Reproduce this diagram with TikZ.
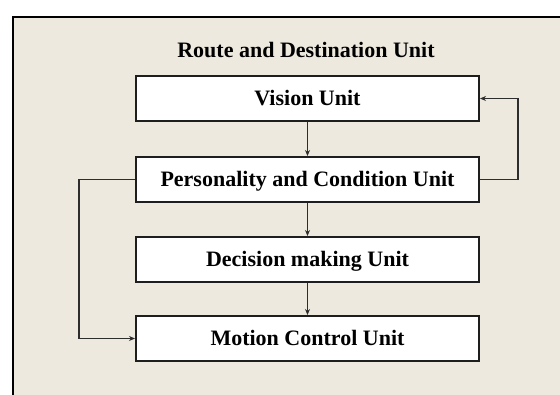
\documentclass[tikz,border=0pt]{standalone}
\usepackage{fontspec}
\setmainfont{Liberation Serif}
\usetikzlibrary{arrows.meta,positioning}
\definecolor{bgbeige}{RGB}{237,233,223}
\definecolor{boxline}{RGB}{30,30,30}
\definecolor{conline}{RGB}{45,45,45}
\tikzset{
  unitbox/.style={draw=boxline, line width=2pt, fill=white, minimum width=343pt, minimum height=45pt,
    inner sep=0pt, font=\fontsize{22}{26}\selectfont\bfseries, text height=15pt, text depth=0pt},
  conn/.style={draw=conline, line width=1.1pt, -{Stealth[length=6pt,width=5pt]}},
  titletext/.style={font=\fontsize{22}{26}\selectfont\bfseries, inner sep=0pt, anchor=base}
}
\begin{document}
\begin{tikzpicture}[x=1pt,y=-1pt]
\useasboundingbox (0,0) rectangle (560,395);
\clip (0,0) rectangle (560,395);
\fill[white] (0,0) rectangle (560,395);
\draw[line width=2.2pt, fill=bgbeige] (13,17) rectangle (600,430);
\node[titletext] (T) at (306,58) {Route and Destination Unit};
\node[unitbox] (V) at (307.5,98.5) {Vision Unit};
\node[unitbox] (P) at (307.5,179.5) {Personality and Condition Unit};
\node[unitbox] (D) at (307.5,259.5) {Decision making Unit};
\node[unitbox] (M) at (307.5,338.5) {Motion Control Unit};
\draw[conn] (V) -- (P);
\draw[conn] (P) -- (D);
\draw[conn] (D) -- (M);
\coordinate (R) at (518,179.5);
\coordinate (L) at (79,179.5);
\draw[conn] (P.east) -- (R) |- (V.east);
\draw[conn] (P.west) -- (L) |- (M.west);
\end{tikzpicture}
\end{document}
